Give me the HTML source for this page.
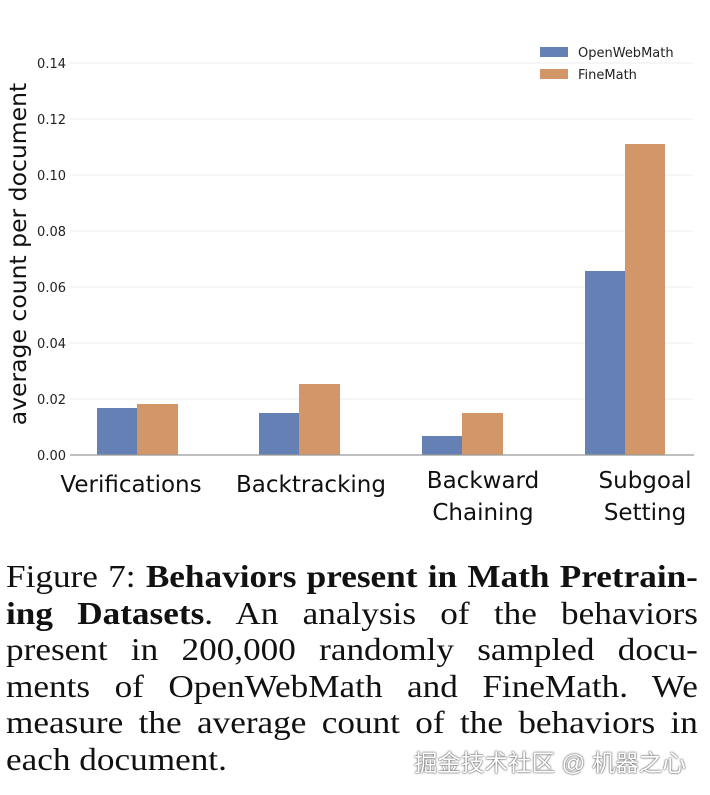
<!DOCTYPE html>
<html><head><meta charset="utf-8"><style>
body{margin:0;background:#fff;width:710px;height:795px;overflow:hidden;position:relative}
.cap{position:absolute;left:6px;top:558px;width:629px;font-family:"Liberation Serif",serif;font-size:32px;line-height:36.6px;color:#111;transform:scaleX(1.1);transform-origin:0 0}
.cap div{text-align:justify;text-align-last:justify;white-space:nowrap}
.cap div.l{text-align-last:left}
.wm{position:absolute;left:414px;top:744px;font-family:"Liberation Sans","Noto Sans CJK SC",sans-serif;font-size:23.5px;color:#fff;text-shadow:0 0 2px #555,0 0 1px #333}
</style></head><body>
<svg width="710" height="550" style="position:absolute;left:0;top:0" font-family="DejaVu Sans, sans-serif">
<g stroke="#eee" stroke-width="1">
<line x1="70" x2="693" y1="63" y2="63"/><line x1="70" x2="693" y1="119" y2="119"/><line x1="70" x2="693" y1="175" y2="175"/><line x1="70" x2="693" y1="231" y2="231"/><line x1="70" x2="693" y1="287" y2="287"/><line x1="70" x2="693" y1="343" y2="343"/><line x1="70" x2="693" y1="399" y2="399"/>
</g>
<g font-size="13" fill="#222" text-anchor="end">
<text x="66" y="68">0.14</text><text x="66" y="124">0.12</text><text x="66" y="180">0.10</text><text x="66" y="236">0.08</text><text x="66" y="292">0.06</text><text x="66" y="348">0.04</text><text x="66" y="404">0.02</text><text x="66" y="460">0.00</text>
</g>
<text transform="translate(26,254) rotate(-90)" font-size="23.5" fill="#111" text-anchor="middle">average count per document</text>
<g fill="#6580b4">
<rect x="97" y="408" width="40" height="47"/><rect x="259" y="413" width="40" height="42"/><rect x="422" y="436" width="40" height="19"/><rect x="585" y="271" width="40" height="184"/>
</g>
<g fill="#d39669">
<rect x="137" y="404" width="41" height="51"/><rect x="299" y="384" width="41" height="71"/><rect x="462" y="413" width="41" height="42"/><rect x="625" y="144" width="40" height="311"/>
</g>
<line x1="70" x2="694" y1="455" y2="455" stroke="#999" stroke-width="1.2"/>
<rect x="540" y="47" width="28" height="10" fill="#6580b4"/><rect x="540" y="69" width="28" height="10" fill="#d39669"/>
<g font-size="13" fill="#222"><text x="578" y="57">OpenWebMath</text><text x="578" y="79">FineMath</text></g>
<g font-size="23" fill="#111" text-anchor="middle">
<text x="131" y="492">Verifications</text><text x="311" y="492">Backtracking</text>
<text x="483" y="488">Backward</text><text x="483" y="520">Chaining</text>
<text x="645" y="488">Subgoal</text><text x="645" y="520">Setting</text>
</g>
</svg>
<div class="cap">
<div>Figure 7: <b>Behaviors present in Math Pretrain-</b></div>
<div><b>ing Datasets</b>. An analysis of the behaviors</div>
<div>present in 200,000 randomly sampled docu-</div>
<div>ments of OpenWebMath and FineMath. We</div>
<div>measure the average count of the behaviors in</div>
<div class="l">each document.</div>
</div>
<div class="wm">掘金技术社区 @ 机器之心</div>
</body></html>
